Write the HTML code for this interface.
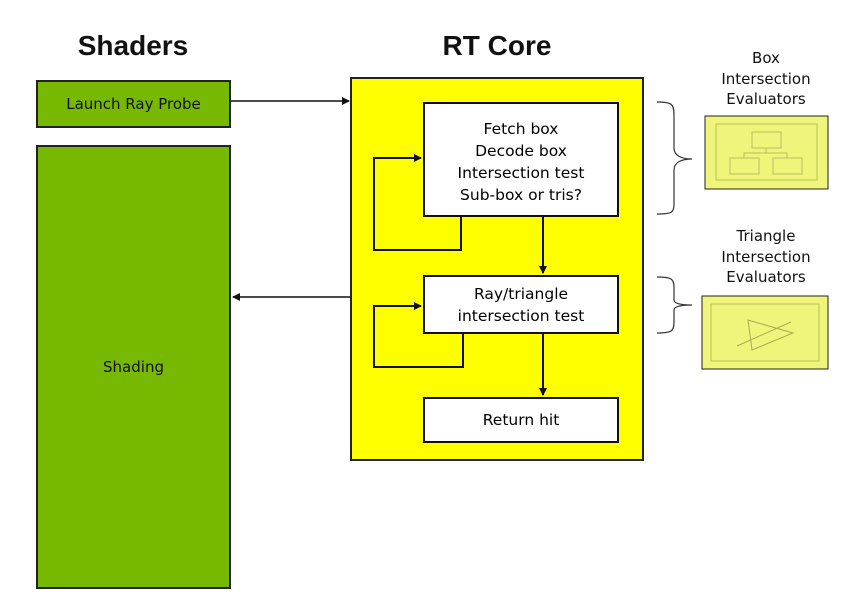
<!DOCTYPE html>
<html><head><style>
body{margin:0;width:855px;height:598px;background:#fff;position:relative;overflow:hidden;font-family:"DejaVu Sans","Liberation Sans",sans-serif}
.a{position:absolute;box-sizing:border-box}
.t{position:absolute;text-align:center;color:#111}
</style></head><body>
<div class="t" style="left:33px;top:30px;width:200px;font:bold 28px 'Liberation Sans',sans-serif">Shaders</div>
<div class="t" style="left:397px;top:30px;width:200px;font:bold 28px 'Liberation Sans',sans-serif">RT Core</div>
<div class="a" style="left:36px;top:80px;width:195px;height:48px;background:#76b900;border:2px solid #222;font-size:15px;line-height:44px;text-align:center;color:#111">Launch Ray Probe</div>
<div class="a" style="left:36px;top:145px;width:195px;height:444px;background:#76b900;border:2px solid #222;font-size:15px;line-height:440px;text-align:center;color:#111">Shading</div>
<div class="a" style="left:350px;top:77px;width:294px;height:384px;background:#ffff00;border:2px solid #222"></div>
<div class="a" style="left:423px;top:102px;width:196px;height:115px;background:#fff;border:2px solid #111;font-size:15.5px;line-height:22px;text-align:center;padding-top:14px">Fetch box<br>Decode box<br>Intersection test<br>Sub-box or tris?</div>
<div class="a" style="left:423px;top:275px;width:196px;height:59px;background:#fff;border:2px solid #111;font-size:15.5px;line-height:22px;text-align:center;padding-top:6px">Ray/triangle<br>intersection test</div>
<div class="a" style="left:423px;top:397px;width:196px;height:46px;background:#fff;border:2px solid #111;font-size:15.5px;line-height:42px;text-align:center">Return hit</div>
<div class="t" style="left:700px;top:48px;width:132px;font-size:15px;line-height:20.5px">Box<br>Intersection<br>Evaluators</div>
<div class="t" style="left:700px;top:226px;width:132px;font-size:15px;line-height:20.5px">Triangle<br>Intersection<br>Evaluators</div>
<svg class="a" style="left:0;top:0" width="855" height="598">
<defs><marker id="m" markerWidth="8" markerHeight="8" refX="7" refY="4" orient="auto" markerUnits="userSpaceOnUse"><path d="M0,0L8,4L0,8z" fill="#111"/></marker></defs>
<g stroke="#111" stroke-width="2" fill="none">
<line x1="231" y1="101" x2="349" y2="101" stroke-width="1.5" marker-end="url(#m)"/>
<line x1="350" y1="297" x2="233" y2="297" stroke-width="1.5" marker-end="url(#m)"/>
<polyline points="461,217 461,250 374,250 374,158 421,158" marker-end="url(#m)"/>
<polyline points="463,334 463,367 374,367 374,306 421,306" marker-end="url(#m)"/>
<line x1="543" y1="217" x2="543" y2="273" marker-end="url(#m)"/>
<line x1="543" y1="334" x2="543" y2="395" marker-end="url(#m)"/>
</g>
<g stroke="#333" stroke-width="1.2" fill="none">
<path d="M657,102 C672,102 674,104 674,115 L674,148 C674,156 682,159 692,159 C682,159 674,162 674,170 L674,203 C674,213 672,214 657,214"/>
<path d="M657,277 C672,277 674,279 674,288 L674,300 C674,304 682,305 692,305 C682,305 674,306 674,310 L674,322 C674,331 672,333 657,333"/>
</g>
<rect x="705" y="116" width="123" height="73" fill="#eef57a" stroke="#222" stroke-width="1"/>
<rect x="716" y="124" width="101" height="56" fill="none" stroke="#b8bd5a"/>
<g fill="none" stroke="#b8bd5a"><rect x="752" y="132" width="29" height="16"/><rect x="730" y="158" width="29" height="16"/><rect x="773" y="158" width="29" height="16"/><path d="M766,148V153M744,158V153H787V158"/></g>
<rect x="702" y="296" width="126" height="73" fill="#eef57a" stroke="#222" stroke-width="1"/>
<rect x="711" y="304" width="108" height="57" fill="none" stroke="#b8bd5a"/>
<g fill="none" stroke="#a8ad50"><path d="M748,320L793,333L752,350Z"/><path d="M737,346L791,322"/></g>
</svg>
</body></html>
